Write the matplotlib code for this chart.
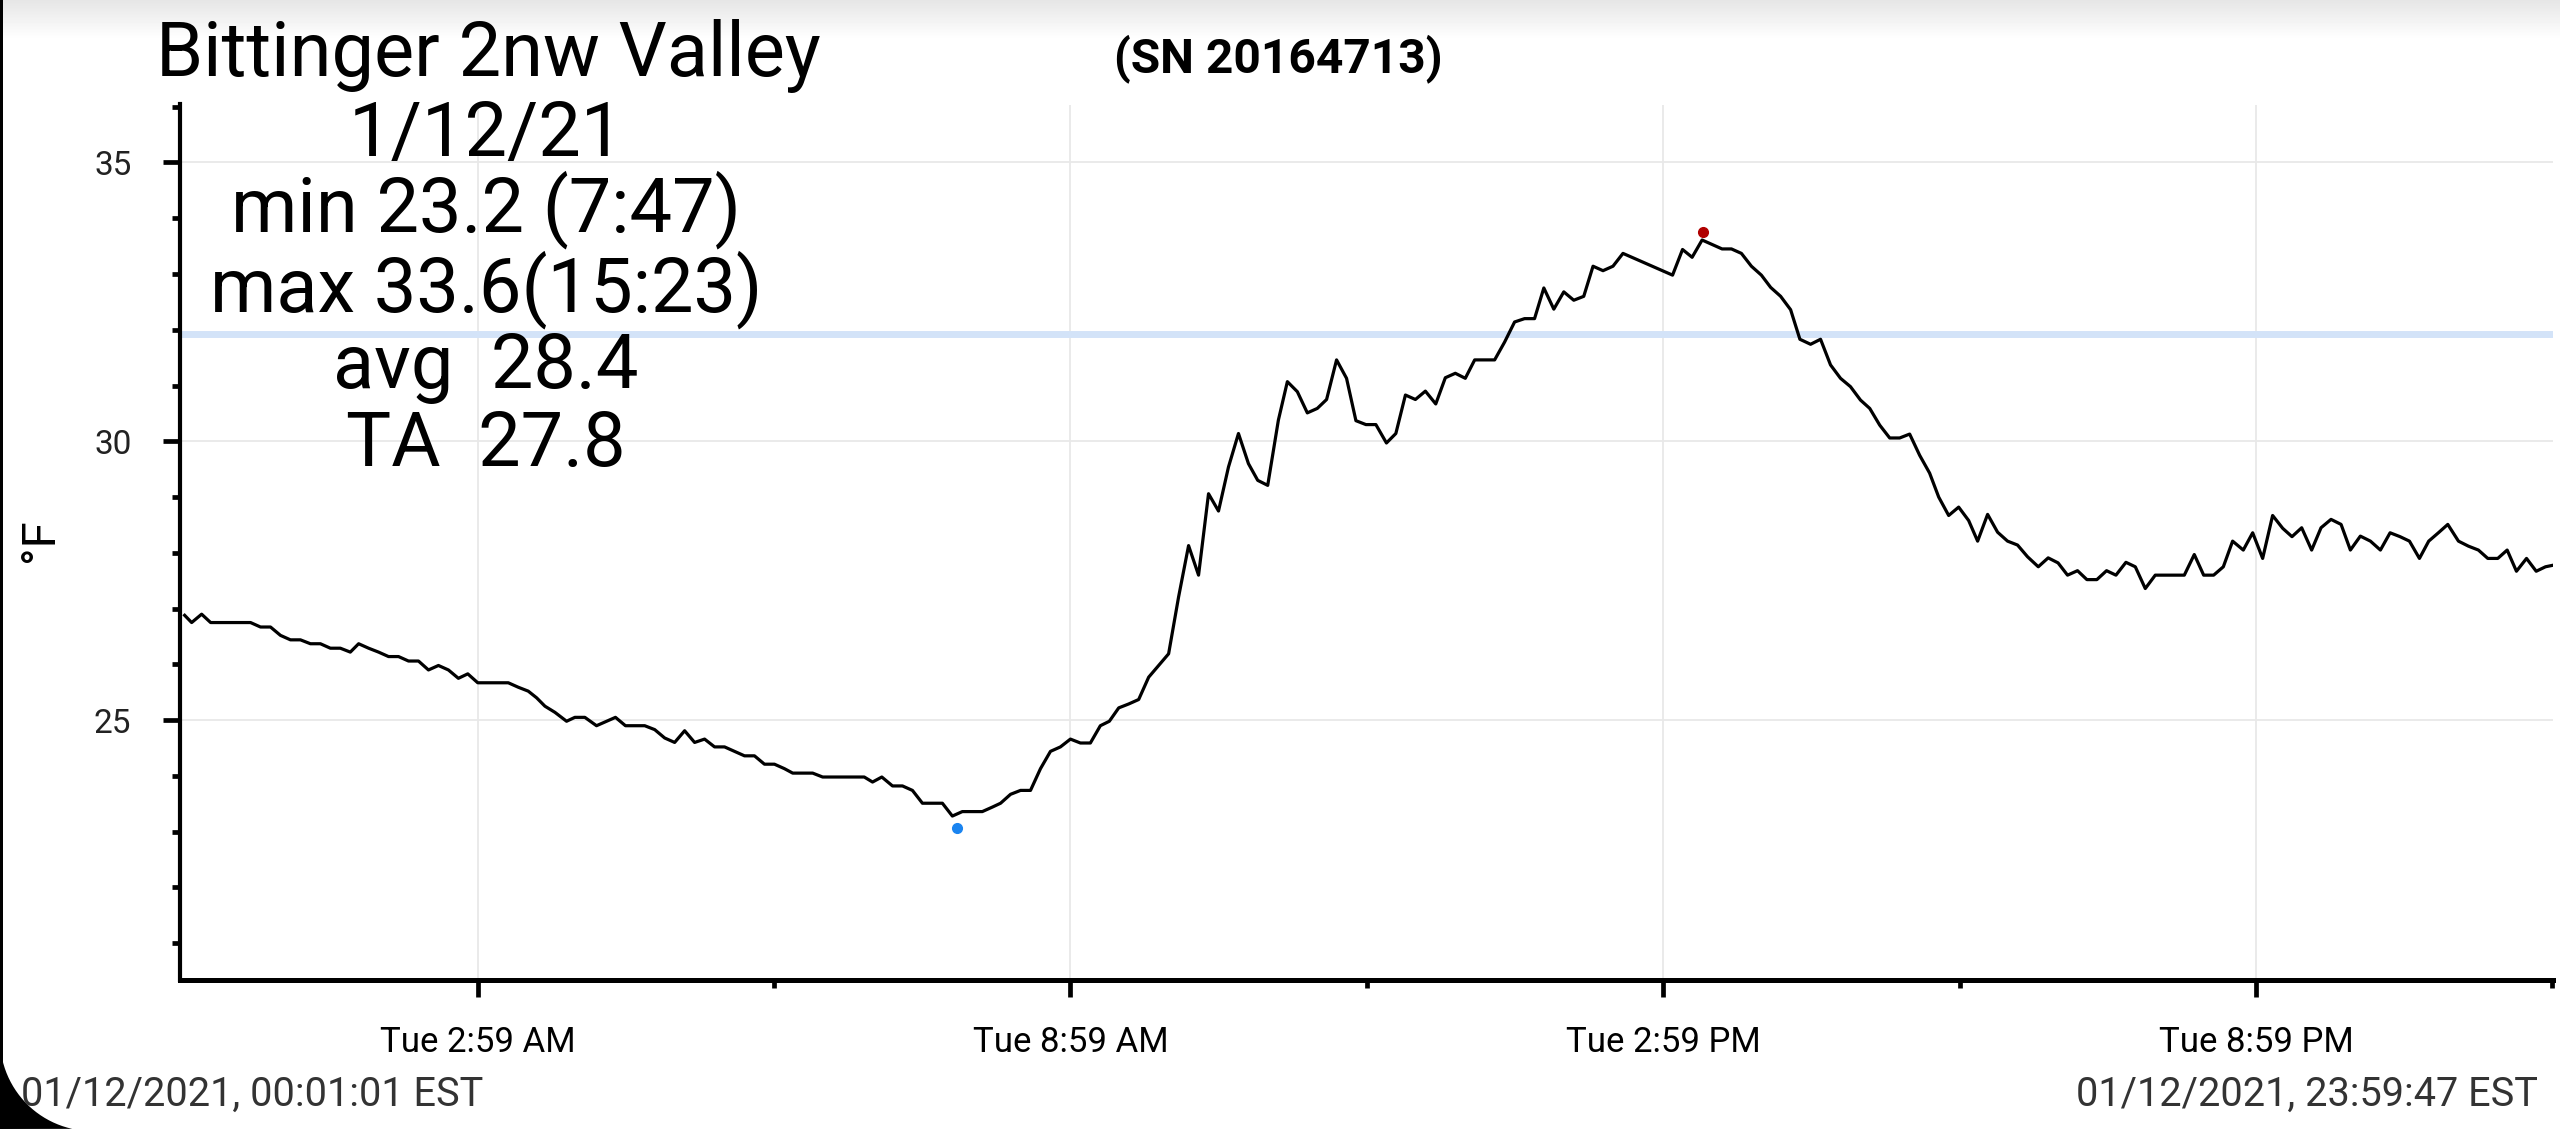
import numpy as np
import matplotlib
matplotlib.use('Agg')
import matplotlib.pyplot as plt
from matplotlib.patches import Polygon

plt.rcParams['font.family'] = ['Roboto', 'DejaVu Sans']

# hours since midnight, 01/12/2021
hours = [0.017, 0.088, 0.189, 0.280, 0.684, 0.785, 0.886, 0.987, 1.088, 1.189,
         1.290, 1.391, 1.492, 1.593, 1.694, 1.778, 1.879, 1.980, 2.081, 2.182,
         2.283, 2.384, 2.485, 2.586, 2.687, 2.788, 2.883, 2.984, 3.293, 3.394,
         3.495, 3.580, 3.664, 3.765, 3.883, 3.967, 4.068, 4.186, 4.287, 4.378,
         4.479, 4.674, 4.775, 4.876, 4.977, 5.078, 5.179, 5.280, 5.381, 5.482,
         5.583, 5.684, 5.785, 5.886, 5.987, 6.088, 6.172, 6.374, 6.475, 6.896,
         6.980, 7.074, 7.182, 7.283, 7.384, 7.485, 7.687, 7.788, 7.889, 8.091,
         8.192, 8.276, 8.377, 8.478, 8.579, 8.680, 8.781, 8.882, 8.983, 9.084,
         9.185, 9.286, 9.377, 9.472, 9.573, 9.674, 9.775, 9.876, 9.977, 10.078,
         10.179, 10.280, 10.381, 10.482, 10.583, 10.684, 10.785, 10.879, 10.980, 11.088,
         11.179, 11.280, 11.381, 11.482, 11.576, 11.677, 11.778, 11.873, 11.974, 12.075,
         12.182, 12.277, 12.374, 12.475, 12.576, 12.681, 12.778, 12.879, 12.980, 13.075,
         13.277, 13.378, 13.479, 13.580, 13.681, 13.775, 13.876, 13.977, 14.078, 14.179,
         14.273, 14.374, 14.475, 14.576, 15.078, 15.179, 15.276, 15.377, 15.478, 15.579,
         15.674, 15.775, 15.876, 15.977, 16.071, 16.172, 16.273, 16.367, 16.475, 16.576,
         16.677, 16.778, 16.879, 16.980, 17.074, 17.175, 17.276, 17.377, 17.478, 17.579,
         17.680, 17.772, 17.873, 17.974, 18.075, 18.166, 18.267, 18.368, 18.469, 18.570,
         18.671, 18.780, 18.880, 18.980, 19.076, 19.177, 19.272, 19.373, 19.471, 19.566,
         19.667, 19.762, 19.863, 19.964, 20.258, 20.359, 20.454, 20.555, 20.653, 20.747,
         20.855, 20.950, 21.051, 21.152, 21.254, 21.348, 21.446, 21.547, 21.642, 21.743,
         21.845, 21.939, 22.040, 22.142, 22.243, 22.341, 22.442, 22.537, 22.638, 22.732,
         22.830, 22.925, 23.033, 23.134, 23.235, 23.330, 23.431, 23.526, 23.620, 23.722,
         23.820, 23.914, 23.996]

temps = [26.88, 26.75, 26.90, 26.75, 26.75, 26.67, 26.67, 26.52, 26.44, 26.44,
         26.37, 26.37, 26.29, 26.29, 26.22, 26.37, 26.29, 26.22, 26.14, 26.14,
         26.06, 26.06, 25.90, 25.98, 25.90, 25.75, 25.83, 25.67, 25.67, 25.59,
         25.52, 25.40, 25.25, 25.14, 24.98, 25.05, 25.05, 24.90, 24.98, 25.05,
         24.90, 24.90, 24.83, 24.68, 24.60, 24.81, 24.60, 24.66, 24.52, 24.52,
         24.44, 24.36, 24.36, 24.21, 24.21, 24.13, 24.05, 24.05, 23.98, 23.98,
         23.89, 23.98, 23.82, 23.82, 23.74, 23.51, 23.51, 23.28, 23.36, 23.36,
         23.44, 23.51, 23.67, 23.74, 23.74, 24.13, 24.44, 24.52, 24.66, 24.59,
         24.59, 24.90, 24.98, 25.22, 25.29, 25.37, 25.77, 25.98, 26.19, 27.21,
         28.13, 27.60, 29.06, 28.75, 29.54, 30.14, 29.60, 29.30, 29.21, 30.38,
         31.07, 30.89, 30.51, 30.59, 30.75, 31.46, 31.13, 30.37, 30.30, 30.30,
         29.97, 30.14, 30.83, 30.75, 30.90, 30.67, 31.14, 31.22, 31.13, 31.46,
         31.46, 31.78, 32.14, 32.20, 32.20, 32.75, 32.37, 32.68, 32.53, 32.60,
         33.14, 33.06, 33.14, 33.37, 32.98, 33.44, 33.30, 33.61, 33.53, 33.45,
         33.45, 33.37, 33.14, 32.98, 32.76, 32.60, 32.36, 31.83, 31.74, 31.83,
         31.37, 31.13, 30.98, 30.74, 30.59, 30.29, 30.06, 30.06, 30.13, 29.75,
         29.43, 29.00, 28.67, 28.82, 28.58, 28.21, 28.69, 28.37, 28.21, 28.14,
         27.93, 27.75, 27.91, 27.82, 27.60, 27.68, 27.52, 27.52, 27.68, 27.60,
         27.83, 27.75, 27.36, 27.60, 27.60, 27.97, 27.60, 27.60, 27.75, 28.21,
         28.05, 28.36, 27.90, 28.67, 28.44, 28.29, 28.45, 28.05, 28.45, 28.60,
         28.51, 28.05, 28.30, 28.21, 28.05, 28.36, 28.29, 28.21, 27.90, 28.21,
         28.36, 28.51, 28.21, 28.12, 28.05, 27.90, 27.90, 28.05, 27.67, 27.90,
         27.67, 27.75, 27.78]

# min / max markers (drawn slightly off the line like the app does)
min_mark = (7.83, 23.06)
max_mark = (15.384, 33.75)
freeze_line = 31.93

major_x = [2.983, 8.983, 14.983, 20.983]
minor_x = [5.983, 11.983, 17.983, 23.983]
x_labels = ['Tue 2:59 AM', 'Tue 8:59 AM', 'Tue 2:59 PM', 'Tue 8:59 PM']
major_y = [25, 30, 35]
minor_y = [21, 22, 23, 24, 26, 27, 28, 29, 31, 32, 33, 34, 36]

title = 'Bittinger 2nw Valley'
stats = ['1/12/21', 'min 23.2 (7:47)', 'max 33.6(15:23)', 'avg  28.4', 'TA  27.8']
serial = '(SN 20164713)'
start_txt = '01/12/2021, 00:01:01 EST'
end_txt = '01/12/2021, 23:59:47 EST'

W, H = 2560, 1129
fig = plt.figure(figsize=(W / 100, H / 100), dpi=100)

# screenshot frame: top shadow, left border, rounded corner
bg = fig.add_axes([0, 0, 1, 1], zorder=-5)
bg.set_xlim(0, W)
bg.set_ylim(H, 0)
bg.axis('off')
grad = np.linspace(0.90, 1.0, 40).reshape(-1, 1)
bg.imshow(grad, cmap='gray', vmin=0, vmax=1, extent=[0, W, 40, 0], aspect='auto')
bg.add_patch(plt.Rectangle((0, 0), 3, H, color='black', lw=0))
ang = np.linspace(np.pi, np.pi * 1.5, 30)
cx, cy, r = 92, H - 90, 92
arc = np.column_stack([cx + r * np.cos(ang), cy - r * np.sin(ang)])
corner = np.vstack([[[0, H]], arc[arc[:, 1] <= H]])
bg.add_patch(Polygon(corner, closed=True, color='black', lw=0))

ax = fig.add_axes([180 / W, 1 - 980 / H, (2553 - 180) / W, (980 - 104.5) / H])
ax.set_facecolor('white')

ax.axhline(freeze_line, color='#d3e3f8', lw=5, zorder=1)
ax.plot(hours, temps, color='black', lw=2.3, zorder=3)
ax.plot(*min_mark, 'o', color='#1a84f0', ms=7, zorder=4)
ax.plot(*max_mark, 'o', color='#b00000', ms=7, zorder=4)

ax.set_xlim(-0.03, 23.99)
ax.set_ylim(20.34, 36.04)
ax.set_xticks(major_x)
ax.set_xticklabels(x_labels)
ax.set_xticks(minor_x, minor=True)
ax.set_yticks(major_y)
ax.set_yticks(minor_y, minor=True)
ax.grid(True, which='major', color='#e8e8e8', lw=1.3, zorder=0)
ax.set_axisbelow(True)

for s in ['top', 'right']:
    ax.spines[s].set_visible(False)
ax.spines['left'].set_linewidth(3.0)
ax.spines['bottom'].set_linewidth(3.6)

ax.tick_params(axis='both', which='major', length=12, width=3.4, color='black')
ax.tick_params(axis='both', which='minor', length=5.8, width=3.4, color='black')
ax.tick_params(axis='x', which='major', labelsize=25, pad=21)
ax.tick_params(axis='y', which='major', labelsize=24, pad=23, labelcolor='#222222')

# header block
fig.text(488 / W, 1 - 76 / H, title, fontsize=54.5, ha='center', va='baseline')
for i, line in enumerate(stats):
    base = [156, 232, 312, 388, 466][i]
    fig.text(486 / W, 1 - base / H, line, fontsize=54.5, ha='center', va='baseline')
fig.text(1278 / W, 1 - 72 / H, serial, fontsize=34.5, fontweight='bold',
         ha='center', va='baseline')

fig.text(40 / W, 1 - 540 / H, '°F', fontsize=34, rotation=90,
         ha='center', va='center')

fig.text(21 / W, 1 - 1106 / H, start_txt, fontsize=28.5, color='#333333',
         ha='left', va='baseline')
fig.text(2538 / W, 1 - 1106 / H, end_txt, fontsize=28.5, color='#333333',
         ha='right', va='baseline')

fig.savefig('out.png', dpi=100, facecolor='white')
